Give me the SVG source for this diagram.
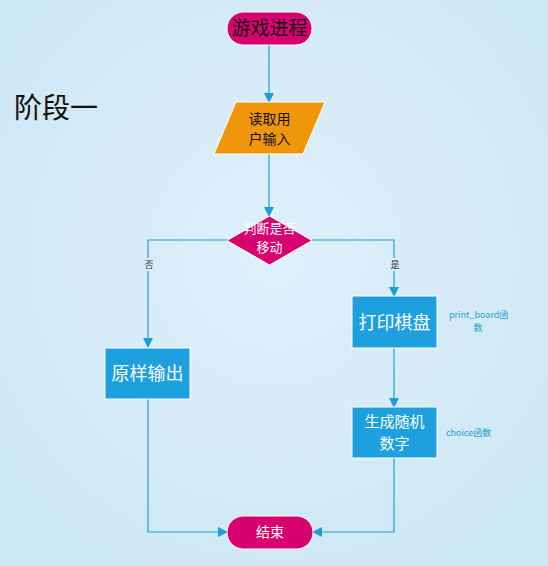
<svg xmlns="http://www.w3.org/2000/svg" width="548" height="566" viewBox="0 0 548 566">
<defs>
<radialGradient id="bg" cx="50%" cy="45%" r="70%">
<stop offset="0" stop-color="#DFF0FA"/>
<stop offset="1" stop-color="#CCE6F4"/>
</radialGradient>
<marker id="arr" viewBox="0 0 10 10" refX="9" refY="5" markerWidth="10" markerHeight="10" markerUnits="userSpaceOnUse" orient="auto">
<path d="M0,0 L10,5 L0,10 z" fill="#1E9FD8"/>
</marker>
<style>
text{font-family:"Noto Sans CJK SC","Liberation Sans",sans-serif;}
.ln{fill:none;stroke:#1E9FD8;stroke-width:1.2;marker-end:url(#arr);}
.term{fill:#D6006E;stroke:#ffffff;stroke-width:1;}
.box{fill:#1E9FDE;stroke:#ffffff;stroke-width:1;}
.wt{fill:#ffffff;text-anchor:middle;}
.lab{fill:#1E9FD8;font-size:9px;}
.yn{fill:#333333;font-size:9px;text-anchor:middle;}
</style>
</defs>
<rect width="548" height="566" fill="url(#bg)"/>
<text x="14" y="118" font-size="28" fill="#111111">阶段一</text>
<g id="connectors">
<line class="ln" x1="269" y1="45" x2="269" y2="102"/>
<line class="ln" x1="269" y1="154" x2="269" y2="216"/>
<polyline class="ln" points="228,240 148,240 148,347"/>
<polyline class="ln" points="312,240 394,240 394,296"/>
<line class="ln" x1="394" y1="348" x2="394" y2="407"/>
<polyline class="ln" points="148,399 148,532 227,532"/>
<polyline class="ln" points="394,458 394,532 313,532"/>
<rect x="143" y="258" width="11" height="13" fill="#D6ECF8"/>
<text class="yn" x="149" y="268">否</text>
<rect x="389" y="258" width="11" height="13" fill="#D6ECF8"/>
<text class="yn" x="395" y="268">是</text>
</g>
<g id="start">
<rect class="term" x="227" y="12" width="85" height="33" rx="16.5"/>
<text x="269.5" y="35" font-size="19" fill="#111111" text-anchor="middle">游戏进程</text>
</g>
<g id="input">
<polygon points="236,102 325,102 303,154 214,154" fill="#F0960A" stroke="#ffffff" stroke-width="1"/>
<text x="269.5" y="124" font-size="14" fill="#111111" text-anchor="middle">读取用</text>
<text x="269.5" y="144" font-size="14" fill="#111111" text-anchor="middle">户输入</text>
</g>
<g id="decision">
<polygon points="269.5,216 312,240.5 269.5,265 227,240.5" fill="#D6006E" stroke="#ffffff" stroke-width="1"/>
<text class="wt" x="269.5" y="233" font-size="13">判断是否</text>
<text class="wt" x="269.5" y="252" font-size="13">移动</text>
</g>
<g id="print">
<rect class="box" x="352" y="296" width="85" height="52"/>
<text class="wt" x="394.5" y="329" font-size="18">打印棋盘</text>
<text class="lab" x="449" y="318">print_board函</text>
<text class="lab" x="478" y="331" text-anchor="middle">数</text>
</g>
<g id="raw">
<rect class="box" x="105" y="348" width="85" height="51"/>
<text class="wt" x="147.5" y="380" font-size="18">原样输出</text>
</g>
<g id="random">
<rect class="box" x="352" y="407" width="85" height="51"/>
<text class="wt" x="394.5" y="427" font-size="15">生成随机</text>
<text class="wt" x="394.5" y="449" font-size="15">数字</text>
<text class="lab" x="446" y="436">choice函数</text>
</g>
<g id="end">
<rect class="term" x="227" y="516" width="86" height="33" rx="16.5"/>
<text class="wt" x="270" y="537" font-size="14">结束</text>
</g>
</svg>
